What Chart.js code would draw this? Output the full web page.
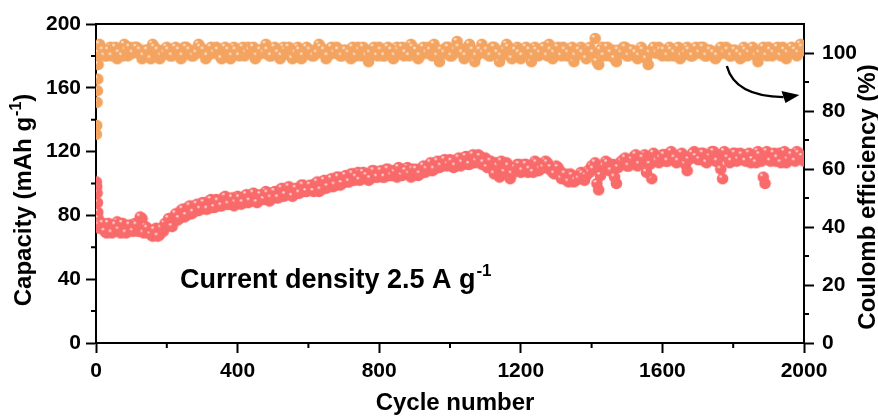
<!DOCTYPE html>
<html>
<head>
<meta charset="utf-8">
<script src="https://cdn.jsdelivr.net/npm/chart.js@4/dist/chart.umd.min.js"></script>
<style>
  html, body { margin: 0; padding: 0; background: #fff; }
  canvas { display: block; }
</style>
</head>
<body>
<canvas id="cycleChart" width="878" height="417"></canvas>
<script>
// first cycles (fast fade-in)
const earlyCycles = [1, 2, 3, 4, 5, 6, 7, 8, 9, 10];
const earlyCapacity = [101, 98, 94, 88, 82, 78, 75, 73, 72, 74];
const earlyEfficiency = [72, 75, 83, 87, 91, 96, 99, 102, 100, 103];

// readings at cycles 20, 30, ..., 2000
const capacity = [
  75, 69, 73, 70, 76, 69, 74, 70, 73,
  75, 70, 78, 73, 69, 67, 72, 68, 70, 73,
  74, 79, 77, 83, 79, 85, 81, 86, 83, 88,
  84, 89, 85, 90, 86, 91, 87, 90, 86, 92,
  87, 92, 88, 93, 89, 92, 90, 95, 89, 94,
  91, 96, 92, 97, 93, 96, 94, 99, 95, 98,
  96, 100, 95, 101, 97, 102, 98, 104, 99, 103,
  101, 106, 102, 107, 103, 106, 102, 108, 104, 107,
  104, 109, 105, 108, 104, 109, 106, 110, 104, 108,
  105, 109, 107, 111, 108, 113, 110, 114, 111, 115,
  110, 115, 111, 116, 112, 117, 113, 118, 112, 116,
  114, 109, 113, 104, 108, 113, 103, 108, 112, 107,
  112, 107, 111, 114, 108, 112, 114, 109, 107, 111,
  108, 104, 102, 106, 101, 104, 107, 102, 108, 111,
  113, 96, 110, 114, 108, 112, 100, 113, 115, 111,
  114, 117, 111, 115, 118, 113, 103, 116, 113, 118,
  114, 119, 116, 113, 118, 115, 108, 117, 120, 115,
  119, 114, 117, 120, 114, 118, 103, 117, 113, 119,
  114, 119, 115, 118, 113, 117, 120, 114, 100, 117,
  118, 114, 119, 116, 113, 118, 115, 120, 116, 114
];
const efficiency = [
  101, 99, 102, 100, 98, 101, 103, 99, 100,
  102, 100, 98, 101, 99, 103, 100, 98, 101, 102,
  99, 101, 100, 98, 102, 100, 99, 101, 103, 100,
  98, 101, 100, 102, 99, 101, 100, 98, 102, 100,
  101, 99, 102, 100, 98, 101, 100, 103, 99, 101,
  100, 98, 102, 101, 99, 100, 102, 98, 101, 100,
  99, 101, 103, 100, 98, 101, 100, 102, 99, 101,
  100, 98, 101, 102, 99, 100, 97, 101, 100, 102,
  99, 101, 100, 98, 102, 100, 99, 101, 103, 100,
  98, 101, 100, 102, 99, 101, 97, 100, 102, 99,
  101, 104, 100, 98, 102, 101, 97, 100, 103, 101,
  99, 102, 100, 97, 101, 103, 99, 100, 102, 98,
  101, 100, 97, 102, 99, 101, 100, 103, 98, 101,
  100, 102, 99, 101, 97, 100, 102, 99, 101, 100,
  105, 96, 102, 100, 99, 101, 97, 100, 102, 99,
  101, 100, 98, 102, 99, 96, 101, 100, 102, 99,
  100, 102, 99, 101, 98, 100, 102, 99, 101, 100,
  102, 99, 101, 100, 98, 101, 100, 102, 99, 101,
  100, 98, 102, 99, 101, 100, 97, 101, 100, 102,
  99, 101, 100, 102, 98, 101, 100, 99, 103, 101
];

// readings at cycles 25, 35, ..., 1995
const capacityMid = [
  70, 75, 69, 74, 71, 75, 69, 74,
  70, 74, 79, 69, 72, 68, 71, 67, 72, 75,
  78, 73, 81, 78, 84, 80, 86, 82, 87, 84,
  88, 84, 90, 85, 89, 86, 92, 87, 91, 88,
  91, 88, 93, 89, 94, 88, 93, 90, 94, 91,
  95, 91, 97, 93, 98, 92, 97, 94, 99, 95,
  99, 95, 101, 96, 102, 98, 103, 99, 104, 100,
  105, 101, 106, 104, 102, 107, 105, 103, 108, 104,
  108, 104, 109, 105, 107, 110, 105, 108, 106, 109,
  109, 106, 111, 109, 113, 109, 114, 111, 115, 112,
  114, 111, 116, 113, 117, 112, 118, 114, 117, 113,
  110, 114, 106, 111, 114, 107, 111, 106, 110, 112,
  108, 112, 109, 107, 113, 109, 110, 113, 110, 106,
  110, 103, 106, 101, 105, 102, 103, 106, 105, 107,
  109, 100, 105, 111, 113, 108, 104, 110, 114, 116,
  111, 115, 118, 112, 116, 107, 112, 119, 114, 116,
  118, 114, 120, 116, 114, 119, 112, 115, 119, 117,
  115, 119, 113, 117, 120, 114, 109, 120, 116, 114,
  119, 115, 118, 114, 119, 115, 113, 118, 104, 120,
  114, 119, 116, 113, 120, 115, 118, 114, 119, 117
];
const efficiencyMid = [
  99, 101, 99, 102, 100, 99, 101, 102,
  100, 102, 101, 99, 101, 98, 102, 101, 99, 100,
  101, 99, 102, 101, 99, 102, 101, 99, 100, 102,
  101, 99, 102, 100, 101, 98, 102, 101, 99, 101,
  99, 102, 100, 101, 102, 99, 101, 100, 101, 99,
  102, 100, 99, 101, 102, 98, 100, 101, 99, 102,
  101, 99, 100, 102, 101, 99, 102, 100, 101, 99,
  101, 100, 102, 99, 101, 102, 99, 100, 102, 99,
  101, 99, 102, 101, 99, 101, 102, 100, 99, 102,
  101, 99, 102, 100, 101, 103, 99, 101, 100, 102,
  99, 101, 102, 100, 99, 103, 101, 99, 101, 100,
  101, 99, 102, 100, 99, 101, 102, 98, 101, 100,
  99, 102, 101, 99, 101, 100, 102, 99, 101, 100,
  102, 99, 101, 100, 102, 99, 101, 100, 98, 102,
  100, 97, 101, 99, 102, 100, 98, 101, 100, 102,
  99, 101, 100, 99, 101, 98, 100, 102, 100, 101,
  101, 99, 101, 100, 102, 99, 100, 101, 99, 102,
  100, 102, 99, 101, 100, 99, 102, 100, 101, 99,
  101, 100, 99, 101, 100, 102, 99, 100, 102, 99,
  101, 100, 102, 99, 101, 100, 102, 101, 100, 102
];

const xTicks = [0, 400, 800, 1200, 1600, 2000];
const xMinor = [200, 600, 1000, 1400, 1800];
const capTicks = [0, 40, 80, 120, 160, 200];
const capMinor = [20, 60, 100, 140, 180];
const ceTicks = [0, 20, 40, 60, 80, 100];
const ceMinor = [10, 30, 50, 70, 90];

const cycles = earlyCycles.slice();
for (let c = 20; c <= 2000; c += 10) cycles.push(c);
for (let c = 25; c <= 1995; c += 10) cycles.push(c);
const capacityAll = earlyCapacity.concat(capacity, capacityMid);
const efficiencyAll = earlyEfficiency.concat(efficiency, efficiencyMid);

const FONT = "'Liberation Sans', Arial, sans-serif";
const RED = "#f96a6a";
const ORANGE = "#f4a461";

// little shaded ball used as marker
function makeBall(color) {
  const c = document.createElement("canvas");
  c.width = 13; c.height = 13;
  const g = c.getContext("2d");
  g.fillStyle = color;
  g.beginPath(); g.arc(6.5, 6.5, 5.8, 0, Math.PI * 2); g.fill();
  g.fillStyle = "rgba(255,255,255,0.7)";
  g.beginPath(); g.arc(4.6, 4.2, 1.3, 0, Math.PI * 2); g.fill();
  return c;
}

// text with a raised "-1" piece; returns nothing, draws at current transform
function supText(ctx, before, sup, after, size) {
  const big = "bold " + size + "px " + FONT;
  const small = "bold " + Math.round(size * 0.65) + "px " + FONT;
  ctx.font = big;
  const w1 = ctx.measureText(before).width;
  const w3 = ctx.measureText(after).width;
  ctx.font = small;
  const w2 = ctx.measureText(sup).width;
  let px = -(w1 + w2 + w3 + 1) / 2;
  ctx.font = big;
  ctx.fillText(before, px, 0);
  px += w1 + 1;
  ctx.font = small;
  ctx.fillText(sup, px, -size * 0.42);
  px += w2;
  ctx.font = big;
  ctx.fillText(after, px, 0);
}

const fixedBox = {
  id: "fixedBox",
  afterDraw(chart) {
    const ctx = chart.ctx;
    const a = chart.chartArea;
    const { x, y, y1 } = chart.scales;
    ctx.save();
    ctx.strokeStyle = "#000";
    ctx.fillStyle = "#000";
    ctx.lineWidth = 2;
    // top frame line
    ctx.beginPath();
    ctx.moveTo(a.left - 1, a.top);
    ctx.lineTo(a.right + 1, a.top);
    ctx.stroke();
    // minor ticks
    ctx.beginPath();
    xMinor.forEach(v => { const p = x.getPixelForValue(v); ctx.moveTo(p, a.bottom); ctx.lineTo(p, a.bottom + 5); });
    capMinor.forEach(v => { const p = y.getPixelForValue(v); ctx.moveTo(a.left, p); ctx.lineTo(a.left - 5, p); });
    ceMinor.forEach(v => { const p = y1.getPixelForValue(v); ctx.moveTo(a.right, p); ctx.lineTo(a.right + 5, p); });
    ctx.stroke();

    // axis titles
    ctx.textAlign = "left";
    ctx.textBaseline = "middle";
    ctx.font = "bold 24px " + FONT;
    ctx.textAlign = "center";
    ctx.fillText("Cycle number", 455, 403);

    ctx.textAlign = "left";
    ctx.textBaseline = "alphabetic";
    ctx.save();
    ctx.translate(31, 200);
    ctx.rotate(-Math.PI / 2);
    supText(ctx, "Capacity (mAh g", "-1", ")", 24);
    ctx.restore();

    ctx.save();
    ctx.translate(875, 197);
    ctx.rotate(-Math.PI / 2);
    ctx.font = "bold 24px " + FONT;
    ctx.textAlign = "center";
    ctx.fillText("Coulomb efficiency (%)", 0, 0);
    ctx.restore();

    // arrow pointing to the efficiency axis
    const sx = x.getPixelForValue(1782), sy = y1.getPixelForValue(95.5);
    const cx = x.getPixelForValue(1805), cy = y1.getPixelForValue(85);
    const ex = x.getPixelForValue(1942), ey = y1.getPixelForValue(84.8);
    const tx = x.getPixelForValue(1987), ty = y1.getPixelForValue(85.5);
    ctx.lineWidth = 2.4;
    ctx.beginPath();
    ctx.moveTo(sx, sy);
    ctx.quadraticCurveTo(cx, cy, ex, ey);
    ctx.stroke();
    ctx.beginPath();
    ctx.moveTo(tx, ty);
    ctx.lineTo(ex - 2, ey - 6);
    ctx.lineTo(ex + 2, ey + 6);
    ctx.closePath();
    ctx.fill();

    // condition label
    const lx = x.getPixelForValue(237), ly = y.getPixelForValue(34.5);
    ctx.font = "bold 27px " + FONT;
    ctx.textBaseline = "alphabetic";
    ctx.textAlign = "left";
    const main = "Current density 2.5 A g";
    ctx.fillText(main, lx, ly);
    const w = ctx.measureText(main).width;
    ctx.font = "bold 17px " + FONT;
    ctx.fillText("-1", lx + w + 1, ly - 12);
    ctx.restore();
  }
};

const tickFont = { family: FONT, size: 21, weight: "bold" };
const plain = v => String(v);

new Chart(document.getElementById("cycleChart"), {
  type: "scatter",
  data: {
    datasets: [
      {
        label: "Capacity",
        data: cycles.map((c, i) => ({ x: c, y: capacityAll[i] })),
        yAxisID: "y",
        pointStyle: makeBall(RED),
        clip: 0,
      },
      {
        label: "Coulomb efficiency",
        data: cycles.map((c, i) => ({ x: c, y: efficiencyAll[i] })),
        yAxisID: "y1",
        pointStyle: makeBall(ORANGE),
        clip: 0,
      },
    ],
  },
  options: {
    responsive: false,
    animation: false,
    devicePixelRatio: 1,
    layout: { padding: { top: 24, left: 0, right: 0, bottom: 0 } },
    plugins: { legend: { display: false }, tooltip: { enabled: false } },
    scales: {
      x: {
        type: "linear",
        min: 0,
        max: 2000,
        afterBuildTicks: s => { s.ticks = xTicks.map(v => ({ value: v })); },
        afterFit: s => { s.height = 74; },
        ticks: { font: tickFont, color: "#000", padding: 6, maxRotation: 0, callback: plain },
        grid: { drawOnChartArea: false, tickLength: 10, tickWidth: 2, tickColor: "#000" },
        border: { color: "#000", width: 2 },
      },
      y: {
        position: "left",
        min: 0,
        max: 200,
        afterBuildTicks: s => { s.ticks = capTicks.map(v => ({ value: v })); },
        afterFit: s => { s.width = 96; },
        ticks: { font: tickFont, color: "#000", padding: 5, callback: plain },
        grid: { drawOnChartArea: false, tickLength: 10, tickWidth: 2, tickColor: "#000" },
        border: { color: "#000", width: 2 },
      },
      y1: {
        position: "right",
        min: 0,
        max: 110,
        afterBuildTicks: s => { s.ticks = ceTicks.map(v => ({ value: v })); },
        afterFit: s => { s.width = 74; },
        ticks: { font: tickFont, color: "#000", padding: 8, callback: plain },
        grid: { drawOnChartArea: false, tickLength: 10, tickWidth: 2, tickColor: "#000" },
        border: { color: "#000", width: 2 },
      },
    },
  },
  plugins: [fixedBox],
});
</script>
</body>
</html>
